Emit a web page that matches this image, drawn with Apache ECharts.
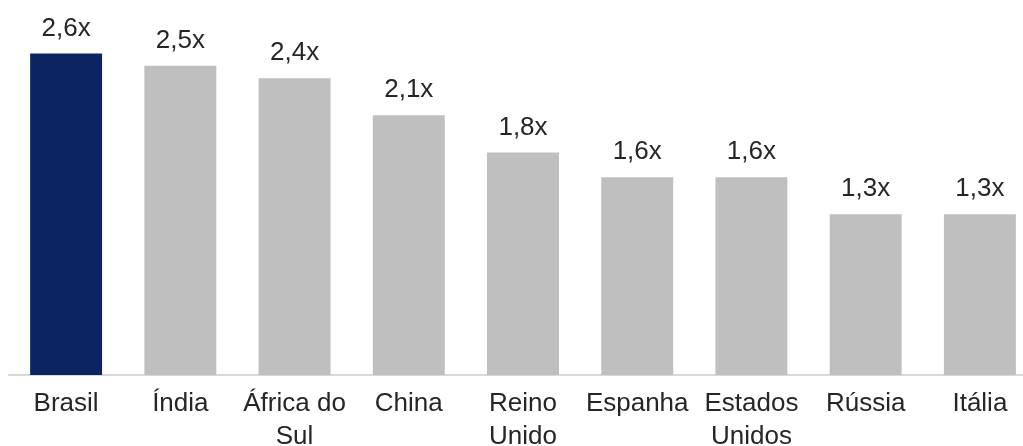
<!DOCTYPE html>
<html>
<head>
<meta charset="utf-8">
<script src="https://cdn.jsdelivr.net/npm/echarts@6/dist/echarts.min.js"></script>
<style>
  html, body { margin: 0; padding: 0; background: #ffffff; }
  #chart { width: 1023px; height: 446px; }
</style>
</head>
<body>
<div id="chart"></div>
<script>
// Countries (line breaks as drawn under the axis)
const categories = ['Brasil', 'Índia', 'África do\nSul', 'China', 'Reino\nUnido', 'Espanha', 'Estados\nUnidos', 'Rússia', 'Itália'];
// Multiple for each country
const values = [2.6, 2.5, 2.4, 2.1, 1.8, 1.6, 1.6, 1.3, 1.3];
// Brazil is highlighted
const highlightIndex = 0;

const fontFamily = '"Liberation Sans", Arial, sans-serif';
const textColor = '#262626';

const chart = echarts.init(document.getElementById('chart'), null, { renderer: 'canvas' });

chart.setOption({
  animation: false,
  backgroundColor: '#ffffff',
  grid: {
    left: 9, width: 1028, top: 4, bottom: 71,
    containLabel: false,
    outerBoundsMode: 'none'
  },
  xAxis: {
    type: 'category',
    data: categories,
    axisLine: { show: true, lineStyle: { color: '#d9d9d9', width: 2 } },
    axisTick: { show: false },
    axisLabel: {
      interval: 0,
      color: textColor,
      fontFamily: fontFamily,
      fontSize: 26,
      lineHeight: 33,
      margin: 12
    }
  },
  yAxis: {
    type: 'value',
    min: 0,
    max: 3,
    show: false,
    splitLine: { show: false }
  },
  series: [{
    type: 'bar',
    barWidth: '63%',
    data: values.map((v, i) => ({
      value: v,
      itemStyle: { color: i === highlightIndex ? '#0c2461' : '#bfbfbf' }
    })),
    label: {
      show: true,
      position: 'top',
      distance: 12,
      color: textColor,
      fontFamily: fontFamily,
      fontSize: 26,
      formatter: p => p.value.toFixed(1).replace('.', ',') + 'x'
    }
  }]
});
</script>
</body>
</html>
